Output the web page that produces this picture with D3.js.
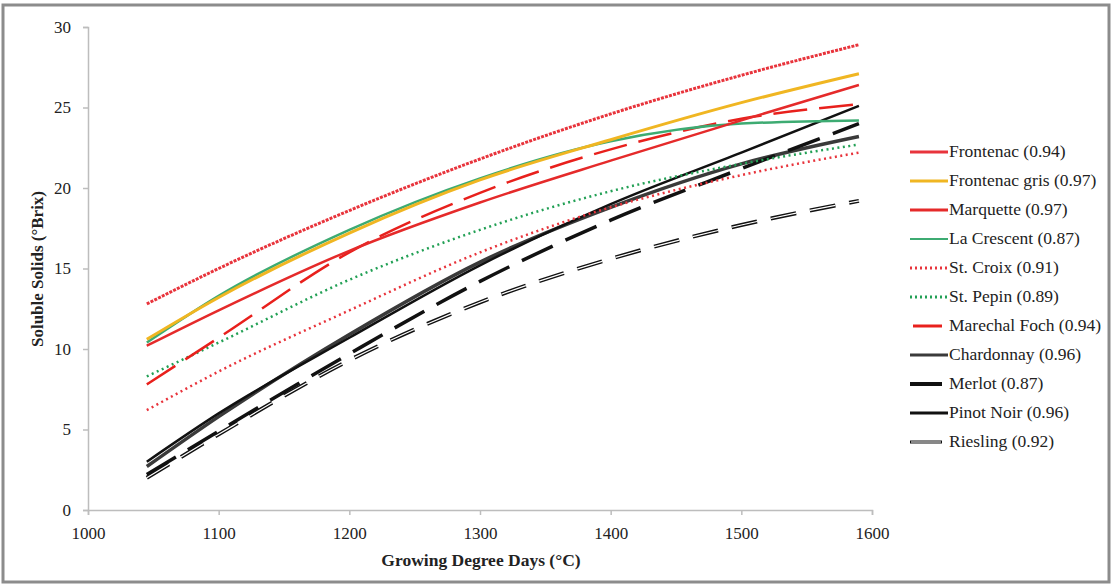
<!DOCTYPE html>
<html>
<head>
<meta charset="utf-8">
<script src="https://cdn.jsdelivr.net/npm/d3@7"></script>
<style>
  body { margin: 0; background: #fff; }
  svg text { font-family: "Liberation Serif", "DejaVu Serif", serif; fill: #222; }
</style>
</head>
<body>
<div class="chart"></div>
<script>

// data (°Brix at each GDD)
const gdd = [1045, 1100, 1200, 1300, 1400, 1500, 1590];
const frontenac     = [12.8, 15.0, 18.6, 21.8, 24.6, 27.0, 28.9];
const frontenacGris = [10.6, 13.2, 17.2, 20.5, 23.0, 25.3, 27.1];
const marquette     = [10.2, 12.4, 16.1, 19.1, 21.7, 24.2, 26.4];
const laCrescent    = [10.4, 13.3, 17.4, 20.6, 22.9, 24.0, 24.2];
const stCroix       = [6.2, 8.6, 12.4, 16.0, 18.8, 20.8, 22.2];
const stPepin       = [8.3, 10.4, 14.3, 17.4, 19.8, 21.5, 22.7];
const marechalFoch  = [7.8, 10.7, 16.0, 19.7, 22.4, 24.3, 25.2];
const chardonnay    = [2.7, 5.8, 10.9, 15.4, 18.8, 21.5, 23.2];
const merlot        = [2.2, 4.9, 9.7, 14.2, 18.0, 21.2, 24.0];
const pinotNoir     = [3.0, 6.0, 10.7, 15.2, 19.0, 22.2, 25.1];
const riesling      = [2.0, 4.7, 9.3, 12.9, 15.6, 17.7, 19.2];

const legendLabels = ["Frontenac (0.94)", "Frontenac gris (0.97)", "Marquette (0.97)",
  "La Crescent (0.87)", "St. Croix (0.91)", "St. Pepin (0.89)", "Marechal Foch (0.94)",
  "Chardonnay (0.96)", "Merlot (0.87)", "Pinot Noir (0.96)", "Riesling (0.92)"];
const xTicks = [1000, 1100, 1200, 1300, 1400, 1500, 1600];
const yTicks = [0, 5, 10, 15, 20, 25, 30];

// styling for each series (chart line + legend swatch)
const series = [
  { values: frontenac,     color: "#e8343c", width: 3,   dash: "3,1.2" },
  { values: frontenacGris, color: "#f0b622", width: 3,   dash: null },
  { values: marquette,     color: "#e52a2a", width: 2.5, dash: null },
  { values: laCrescent,    color: "#3dab72", width: 2.5, dash: null },
  { values: stCroix,       color: "#e8343c", width: 2.5, dash: "2,3.5" },
  { values: stPepin,       color: "#22a055", width: 2.5, dash: "2,3.5" },
  { values: marechalFoch,  color: "#e8201c", width: 2.5, dash: "34,12" },
  { values: chardonnay,    color: "#3a3a3a", width: 3.5, dash: null },
  { values: merlot,        color: "#111",    width: 3.5, dash: "34,14" },
  { values: pinotNoir,     color: "#111",    width: 2.5, dash: null },
  { values: riesling,      color: "#111",    width: 4,   dash: "26,14", hollow: true }
];

const serif = "Liberation Serif, DejaVu Serif, serif";
const W = 1112, H = 585;
const svg = d3.select(".chart").append("svg")
  .attr("width", W)
  .attr("height", H);

// outer frame
svg.append("rect")
  .attr("x", 3).attr("y", 5)
  .attr("width", W - 6).attr("height", H - 8)
  .attr("fill", "none")
  .attr("stroke", "#8c8c8c")
  .attr("stroke-width", 3);

let xScale = d3.scaleLinear().domain([1000, 1600]).range([88, 872]);
let yScale = d3.scaleLinear().domain([0, 30]).range([510, 27]);

let xAxis = d3.axisBottom(xScale).tickValues(xTicks).tickSize(5).tickPadding(12).tickFormat(d3.format("d"));
let yAxis = d3.axisLeft(yScale).tickValues(yTicks).tickSize(5).tickPadding(12);

const gx = svg.append("g")
  .attr("transform", `translate(0, ${yScale(0)})`)
  .call(xAxis);
const gy = svg.append("g")
  .attr("transform", `translate(${xScale(1000)}, 0)`)
  .call(yAxis);

[gx, gy].forEach(g => {
  g.attr("font-family", serif);
  g.select(".domain").attr("stroke", "#bdbdbd").attr("stroke-width", 1.5);
  g.selectAll(".tick line").attr("stroke", "#bdbdbd").attr("stroke-width", 1.5);
  g.selectAll(".tick text")
    .style("font-family", serif)
    .style("font-size", "17px")
    .attr("fill", "#222");
});

// axis titles
svg.append("text")
  .attr("x", 481).attr("y", 566)
  .attr("text-anchor", "middle")
  .style("font-family", serif)
  .style("font-size", "17.5px")
  .style("font-weight", "bold")
  .text("Growing Degree Days (°C)");

svg.append("text")
  .attr("transform", "translate(43, 269) rotate(-90)")
  .attr("text-anchor", "middle")
  .style("font-family", serif)
  .style("font-size", "17px")
  .style("font-weight", "bold")
  .text("Soluble Solids (°Brix)");

// lines
const line = d3.line()
  .x((d, i) => xScale(gdd[i]))
  .y(d => yScale(d))
  .curve(d3.curveMonotoneX);

// draw order: black ones first, coloured on top
const order = [7, 8, 9, 10, 4, 5, 6, 3, 2, 1, 0];
order.forEach(i => {
  const s = series[i];
  svg.append("path")
    .datum(s.values)
    .attr("fill", "none")
    .attr("stroke", s.color)
    .attr("stroke-width", s.width)
    .attr("stroke-dasharray", s.dash)
    .attr("d", line);
  if (s.hollow) {
    svg.append("path")
      .datum(s.values)
      .attr("fill", "none")
      .attr("stroke", "#fff")
      .attr("stroke-width", 1.2)
      .attr("stroke-dasharray", s.dash)
      .attr("d", line);
  }
});

// legend
const legend = svg.append("g");
legendLabels.forEach((label, i) => {
  const s = series[i];
  const y = 152 + i * 29;
  const x0 = 910, x1 = (i === 6 || i === 8 || i === 10) ? 942 : 948;
  const lx0 = (i === 6) ? 913 : x0;
  legend.append("line")
    .attr("x1", lx0).attr("x2", x1)
    .attr("y1", y).attr("y2", y)
    .attr("stroke", s.color)
    .attr("stroke-width", i === 3 ? 2 : (i === 8 ? 4 : 3))
    .attr("stroke-dasharray", (i === 4 || i === 5) ? "2,3" : null);
  if (s.hollow) {
    legend.append("line")
      .attr("x1", x0 + 1).attr("x2", x1 - 1)
      .attr("y1", y).attr("y2", y)
      .attr("stroke", "#fff")
      .attr("stroke-width", 1);
  }
  legend.append("text")
    .attr("x", 949).attr("y", y + 5)
    .style("font-family", serif)
    .style("font-size", "17.5px")
    .text(label);
});

</script>
</body>
</html>
